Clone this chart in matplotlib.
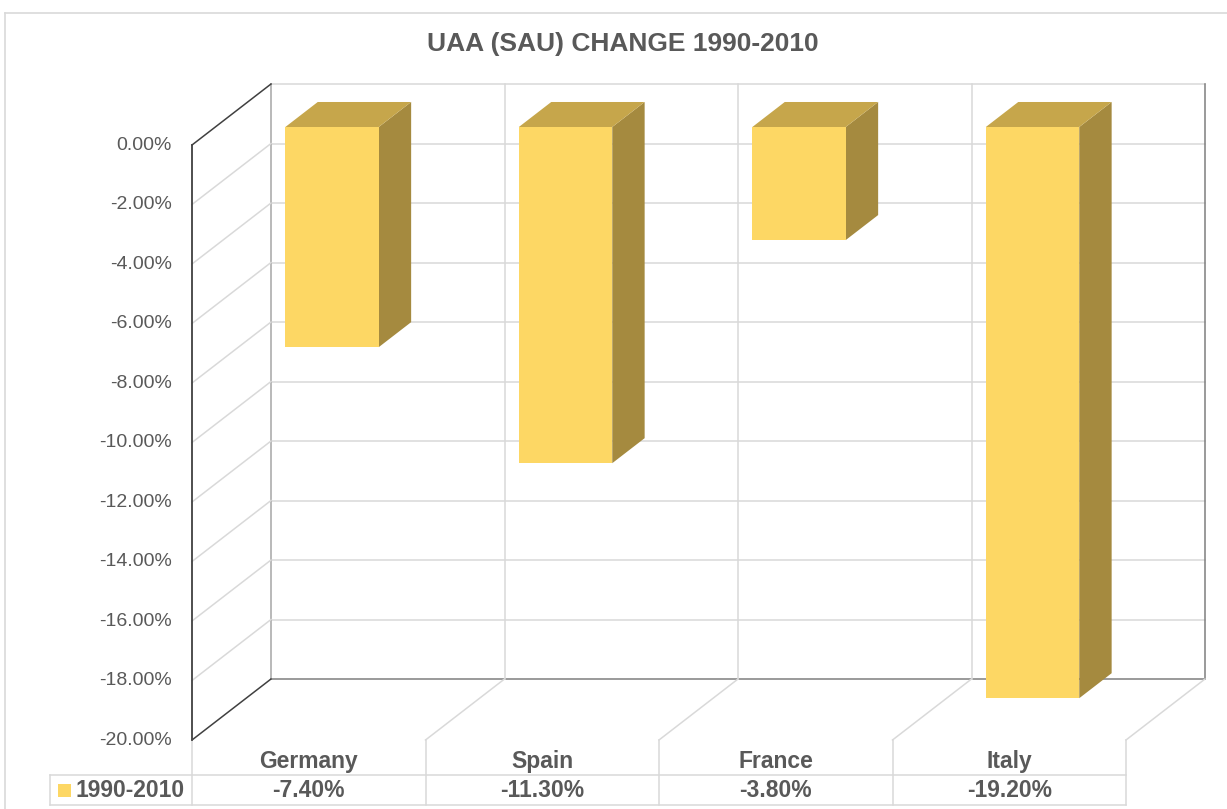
import matplotlib
matplotlib.use("Agg")
import matplotlib.pyplot as plt
from matplotlib.patches import Polygon, Rectangle

# ---------------- data ----------------
title = "UAA (SAU) CHANGE 1990-2010"
series_name = "1990-2010"
categories = ["Germany", "Spain", "France", "Italy"]
values = [-7.40, -11.30, -3.80, -19.20]
yticks = [0, -2, -4, -6, -8, -10, -12, -14, -16, -18, -20]

# ---------------- style ----------------
plt.rcParams['font.family'] = ['Liberation Sans', 'DejaVu Sans']
TXT = "#595959"
FRONT = "#FDD764"
TOP = "#C6A64B"
SIDE = "#A58A3F"
GRID = "#D9D9D9"
DARK = "#404040"

W, H = 1227, 809
fig = plt.figure(figsize=(W / 100, H / 100), dpi=100)
ax = fig.add_axes([0, 0, 1, 1])
ax.axis("off")

# scale: 1 category = 233.5 px, 1 % = 29.75 px; origin (cat 0, 0 %) at px (192, 145)
PX_CAT, PX_PCT, X0, Y0 = 233.5, 29.75, 192, 145
ax.set_xlim(-X0 / PX_CAT, (W - X0) / PX_CAT)
ax.set_ylim(-(H - Y0) / PX_PCT, Y0 / PX_PCT)

n = len(categories)
ymin, ymax = min(yticks), max(yticks)
DX, DY = 79 / PX_CAT, 61 / PX_PCT           # depth of the 3-D box
f0, f1 = 0.295, 0.705                        # bar depth range
bar_w = 0.4

# outer chart border
bx, by = (5 - X0) / PX_CAT, (Y0 - 13) / PX_PCT
ax.plot([bx, ax.get_xlim()[1]], [by, by], color=GRID, lw=1.2, zorder=0)
ax.plot([bx, bx], [by, ax.get_ylim()[0]], color=GRID, lw=1.2, zorder=0)

# back wall gridlines
for t in yticks:
    col = "#7F7F7F" if t == ymin else GRID
    ax.plot([DX, n + DX], [t + DY, t + DY], color=col, lw=1.1, zorder=1)
for i in range(n + 1):
    col = GRID
    if i == 0:
        col = "#A6A6A6"
    if i == n:
        col = "#7F7F7F"
    ax.plot([i + DX, i + DX], [ymin + DY, ymax + DY], color=col, lw=1.1, zorder=1)

# side wall diagonals
for t in yticks:
    col = DARK if t in (ymin, ymax) else GRID
    ax.plot([0, DX], [t, t + DY], color=col, lw=1.1, zorder=1)

# floor diagonals
for i in range(1, n + 1):
    ax.plot([i + DX, i], [ymin + DY, ymin], color=GRID, lw=1.1, zorder=1)

# front value axis
ax.plot([0, 0], [ymax, ymin], color=DARK, lw=1.3, zorder=2)
for t in yticks:
    ax.text(-20 / PX_CAT, t, f"{t:.2f}%", ha="right", va="center",
            fontsize=14, color=TXT)

# bars
centers = [i + 0.5 for i in range(n)]
ox, oy = f0 * DX, f0 * DY
ddx, ddy = (f1 - f0) * DX, (f1 - f0) * DY
ax.bar([c + ox for c in centers], values, width=bar_w, bottom=oy,
       color=FRONT, edgecolor="none", zorder=5)
for c, v in zip(centers, values):
    xl, xr = c + ox - bar_w / 2, c + ox + bar_w / 2
    ytop, ybot = oy, oy + v
    ax.add_patch(Polygon([(xr, ytop), (xr + ddx, ytop + ddy),
                          (xr + ddx, ybot + ddy), (xr, ybot)],
                         closed=True, facecolor=SIDE, edgecolor="none", zorder=4))
    ax.add_patch(Polygon([(xl, ytop), (xr, ytop), (xr + ddx, ytop + ddy),
                          (xl + ddx, ytop + ddy)],
                         closed=True, facecolor=TOP, edgecolor="none", zorder=4))

# data table
row1_top = ymin
row_mid = -(775 - Y0) / PX_PCT
row_bot = -(805 - Y0) / PX_PCT
leg_left = (50 - X0) / PX_CAT
for i in range(n + 1):
    ax.plot([i, i], [row1_top, row_bot], color=GRID, lw=1.1, zorder=1)
ax.plot([leg_left, n], [row_mid, row_mid], color=GRID, lw=1.1, zorder=1)
ax.plot([leg_left, n], [row_bot, row_bot], color=GRID, lw=1.1, zorder=1)
ax.plot([leg_left, leg_left], [row_mid, row_bot], color=GRID, lw=1.1, zorder=1)

hdr_y = -(761 - Y0) / PX_PCT
val_y = -(790 - Y0) / PX_PCT
for c, cat, v in zip(centers, categories, values):
    ax.text(c, hdr_y, cat, ha="center", va="center", fontsize=16.5,
            fontweight="bold", color=TXT)
    ax.text(c, val_y, f"{v:.2f}%", ha="center", va="center", fontsize=16.5,
            fontweight="bold", color=TXT)

# legend key in table
sq_w, sq_h = 13 / PX_CAT, 13 / PX_PCT
ax.add_patch(Rectangle(((58 - X0) / PX_CAT, val_y - sq_h / 2), sq_w, sq_h,
                       facecolor=FRONT, edgecolor="none", zorder=3))
ax.text((76 - X0) / PX_CAT, val_y, series_name, ha="left", va="center",
        fontsize=16.5, fontweight="bold", color=TXT)

# title
ax.text((623 - X0) / PX_CAT, -(44 - Y0) / PX_PCT, title, ha="center",
        va="center", fontsize=19, fontweight="bold", color=TXT)

fig.savefig("out.png", dpi=100)
